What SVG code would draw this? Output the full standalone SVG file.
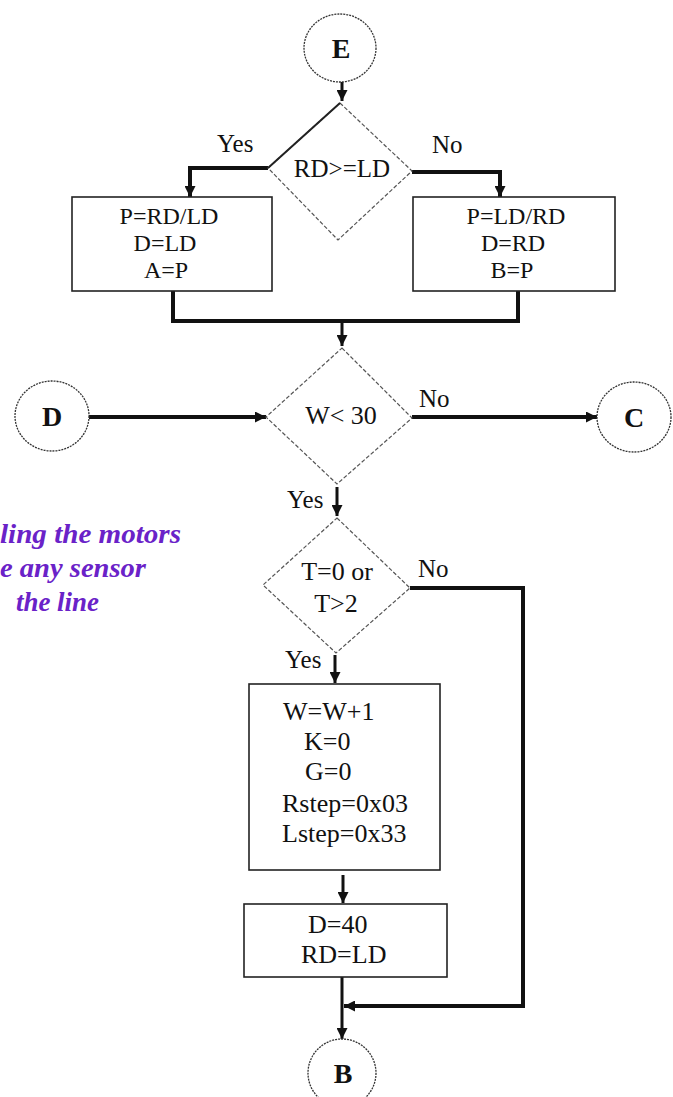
<svg xmlns="http://www.w3.org/2000/svg" width="673" height="1097" viewBox="0 0 673 1097">
  <style>
    .bg { fill: #ffffff; }
    .term { fill: #ffffff; stroke: #333333; stroke-width: 1.3; stroke-dasharray: 2 1; }
    .dec { fill: #ffffff; stroke: #555555; stroke-width: 1.2; stroke-dasharray: 4 2; }
    .proc { fill: #ffffff; stroke: #222222; stroke-width: 1.6; }
    .t { font-family: "Liberation Serif", "Times New Roman", serif; font-size: 25px; fill: #111111; }
    .tb { font-family: "Liberation Serif", "Times New Roman", serif; font-size: 28px; font-weight: bold; fill: #111111; text-anchor: middle; }
    .m { text-anchor: middle; }
    .t24 { font-size: 24px; }
    .t26 { font-size: 26px; }
    .note { font-family: "Liberation Serif", "Times New Roman", serif; font-size: 27px; font-weight: bold; font-style: italic; fill: #6a22c8; }
    .c { fill: none; stroke: #111111; stroke-width: 4; stroke-linejoin: miter; }
    .c3 { fill: none; stroke: #111111; stroke-width: 3; }
  </style>
  <defs>
    <marker id="arr" viewBox="0 0 10 10" refX="10" refY="5" markerUnits="userSpaceOnUse" markerWidth="11" markerHeight="11" orient="auto">
      <path d="M0,0 L10,5 L0,10 z" fill="#111111"/>
    </marker>
  </defs>
  <rect class="bg" x="0" y="0" width="673" height="1097"/>

  <g id="connectors">
    <path class="c3" d="M342,82 V101" marker-end="url(#arr)"/>
    <path class="c" d="M268,168 H190 V197" marker-end="url(#arr)"/>
    <path class="c" d="M412,172 H500 V197" marker-end="url(#arr)"/>
    <path class="c" d="M173,291 V321 H518 V291"/>
    <path class="c3" d="M342,321 V346" marker-end="url(#arr)"/>
    <path class="c" d="M89,417 H266" marker-end="url(#arr)"/>
    <path class="c" d="M412,417 H597" marker-end="url(#arr)"/>
    <path class="c3" d="M337,487 V516" marker-end="url(#arr)"/>
    <path class="c" d="M410,588 H523 V1006 H344" marker-end="url(#arr)"/>
    <path class="c3" d="M335,655 V683" marker-end="url(#arr)"/>
    <path class="c3" d="M343,875 V903" marker-end="url(#arr)"/>
    <path class="c3" d="M342,977 V1039" marker-end="url(#arr)"/>
    <text class="t" x="217" y="152">Yes</text>
    <text class="t" x="432" y="153">No</text>
    <text class="t" x="419" y="407">No</text>
    <text class="t" x="287" y="508">Yes</text>
    <text class="t" x="418" y="577">No</text>
    <text class="t" x="285" y="668">Yes</text>
  </g>

  <g id="nodeE">
    <ellipse class="term" cx="340" cy="48" rx="36" ry="34"/>
    <text class="tb" x="341" y="58">E</text>
  </g>

  <g id="decision1">
    <polygon class="dec" points="340,103 412,171 338,240 268,168"/>
    <line x1="340" y1="103" x2="268" y2="168" stroke="#222222" stroke-width="2"/>
    <text class="t m" x="342" y="177">RD&gt;=LD</text>
  </g>

  <g id="boxA">
    <rect class="proc" x="72" y="197" width="200" height="94"/>
    <text class="t m t24" x="169" y="224">P=RD/LD</text>
    <text class="t m t24" x="165" y="251">D=LD</text>
    <text class="t m t24" x="166" y="278">A=P</text>
  </g>

  <g id="boxB">
    <rect class="proc" x="413" y="197" width="202" height="94"/>
    <text class="t m t24" x="516" y="224">P=LD/RD</text>
    <text class="t m t24" x="513" y="251">D=RD</text>
    <text class="t m t24" x="512" y="278">B=P</text>
  </g>

  <g id="nodeD">
    <ellipse class="term" cx="52" cy="416" rx="37" ry="35"/>
    <text class="tb" x="52" y="426">D</text>
  </g>

  <g id="decision2">
    <polygon class="dec" points="342,348 412,418 337,484 266,417"/>
    <text class="t m t26" x="341" y="424">W&lt; 30</text>
  </g>

  <g id="nodeC">
    <ellipse class="term" cx="634" cy="417" rx="37" ry="35"/>
    <text class="tb" x="634" y="427">C</text>
  </g>

  <g id="note">
    <text class="note" x="0" y="543" textLength="181" lengthAdjust="spacingAndGlyphs">ling the motors</text>
    <text class="note" x="0" y="577" textLength="146" lengthAdjust="spacingAndGlyphs">e any sensor</text>
    <text class="note" x="16" y="611" textLength="83" lengthAdjust="spacingAndGlyphs">the line</text>
  </g>

  <g id="decision3">
    <polygon class="dec" points="337,518 410,588 336,653 263,585"/>
    <text class="t m t26" x="337" y="580">T=0 or</text>
    <text class="t m t26" x="336" y="612">T&gt;2</text>
  </g>

  <g id="boxW">
    <rect class="proc" x="249" y="684" width="191" height="186"/>
    <text class="t t26" x="283" y="720">W=W+1</text>
    <text class="t t26" x="304" y="750">K=0</text>
    <text class="t t26" x="305" y="780">G=0</text>
    <text class="t t26" x="282" y="812">Rstep=0x03</text>
    <text class="t t26" x="282" y="842">Lstep=0x33</text>
  </g>

  <g id="boxD">
    <rect class="proc" x="244" y="904" width="203" height="73"/>
    <text class="t t26" x="308" y="933">D=40</text>
    <text class="t t26" x="301" y="963">RD=LD</text>
  </g>

  <g id="nodeB">
    <ellipse class="term" cx="342" cy="1073" rx="34" ry="34"/>
    <text class="tb" x="343" y="1083">B</text>
  </g>
</svg>
